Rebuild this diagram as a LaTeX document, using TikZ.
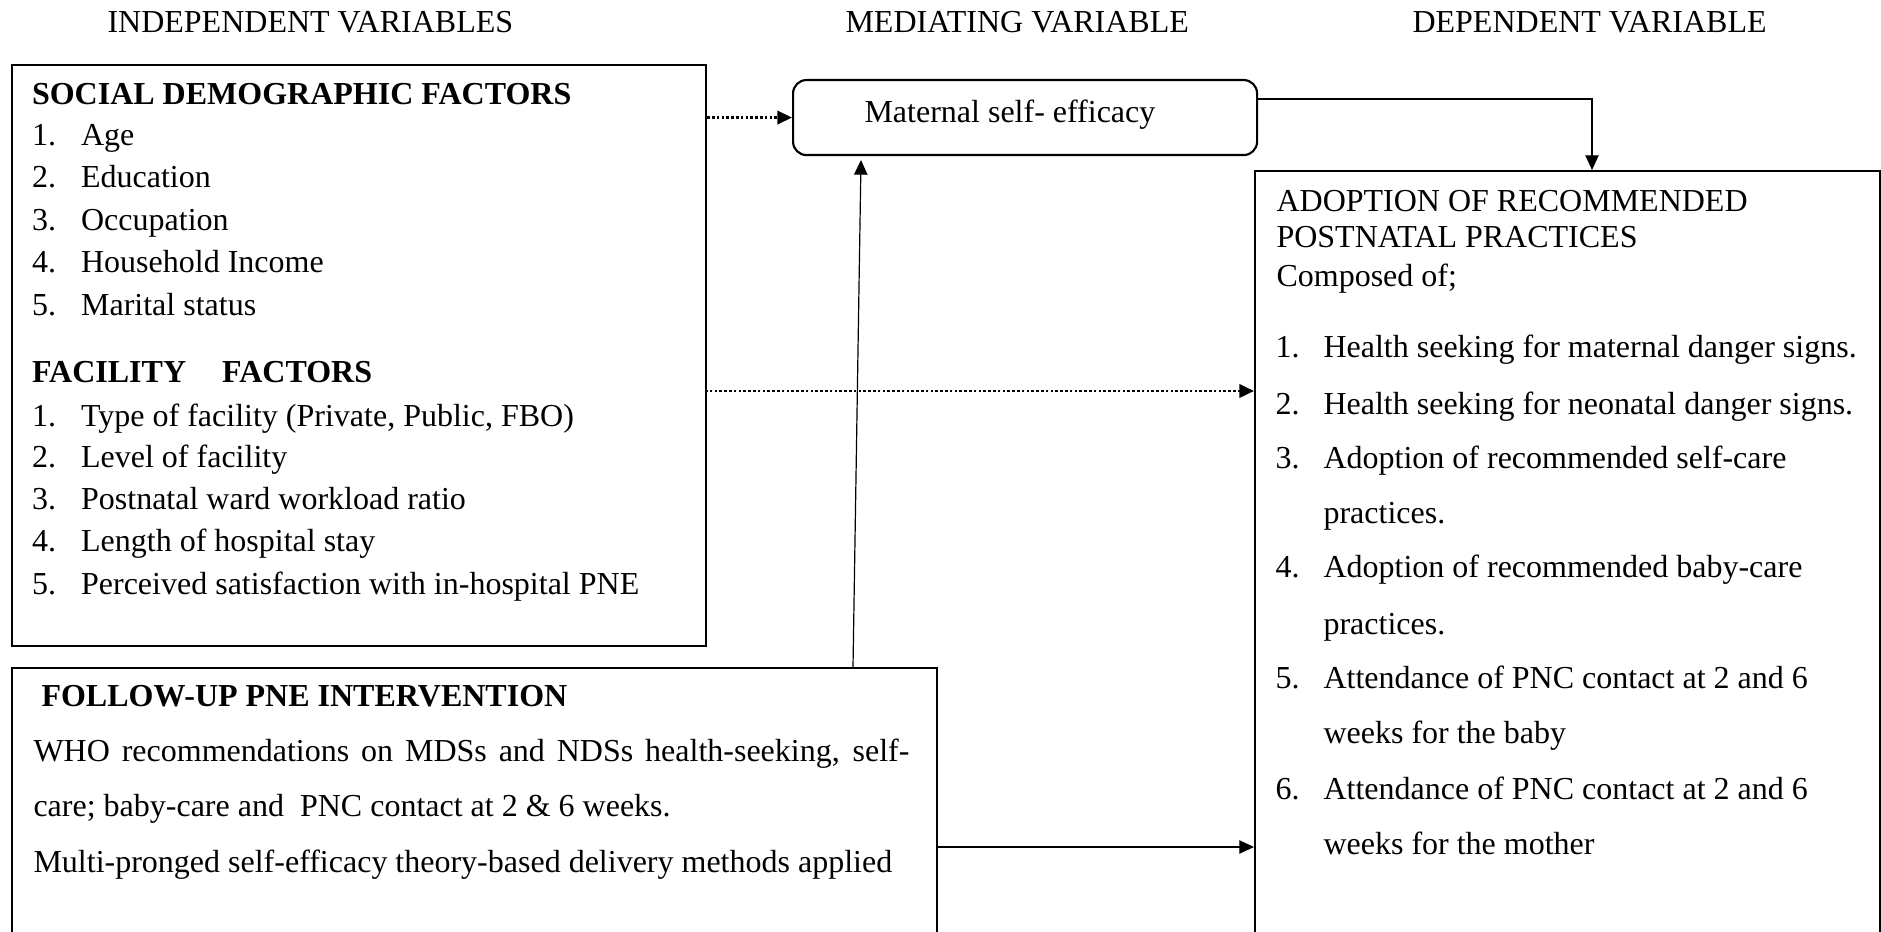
\documentclass[tikz,border=0pt]{standalone}
\usepackage{fontspec}
\setmainfont{Liberation Serif}
\usetikzlibrary{arrows.meta}
\newlength\pxl
\setlength\pxl{0.375pt}

\begin{document}
\begin{tikzpicture}[x=0.375pt,y=-0.375pt,
  every node/.style={inner sep=0pt,font=\fontsize{12}{14}\selectfont},
  frame/.style={draw,line width=0.8pt,anchor=north west},
  txt/.style={anchor=base west},
  link/.style={line width=0.45pt,-{Triangle[length=5.5pt,width=5pt]}},
  dotlink/.style={line width=1pt,dash pattern=on 1pt off 0.8pt,-{Triangle[length=5.5pt,width=5pt]}}]
  \def\numL{31.5};
  \def\txtL{80.6};
  \def\numR{1275};
  \def\txtR{1323};
  \useasboundingbox (0,0) rectangle (1881,932);
  \clip (0,0) rectangle (1881,932);
  % column headings
  \node[txt] (hInd) at (107,33)  {INDEPENDENT VARIABLES};
  \node[txt] (hMed) at (845,33)  {MEDIATING VARIABLE};
  \node[txt] (hDep) at (1412,33) {DEPENDENT VARIABLE};
  %
  \node[frame,minimum width=694\pxl,minimum height=581\pxl] (sdf) at (11,64) {};
  \node[frame,rounded corners=5pt,minimum width=464\pxl,minimum height=75\pxl] (med) at (792,79) {};
  \node[frame,minimum width=625\pxl,minimum height=800\pxl] (adopt) at (1254,170) {};
  \node[frame,minimum width=925\pxl,minimum height=300\pxl] (fup) at (11,667) {};
  %
  \node[txt] (sdfHead) at (\numL,105) {\textbf{SOCIAL DEMOGRAPHIC FACTORS}};
  \node[txt] (sdfN1) at (\numL,146) {1.};  \node[txt] (sdfT1) at (\txtL,146) {Age};
  \node[txt] (sdfN2) at (\numL,188) {2.};  \node[txt] (sdfT2) at (\txtL,188) {Education};
  \node[txt] (sdfN3) at (\numL,231) {3.};  \node[txt] (sdfT3) at (\txtL,231) {Occupation};
  \node[txt] (sdfN4) at (\numL,273) {4.};  \node[txt] (sdfT4) at (\txtL,273) {Household Income};
  \node[txt] (sdfN5) at (\numL,316) {5.};  \node[txt] (sdfT5) at (\txtL,316) {Marital status};
  %
  \node[txt] (facHead) at (\numL,383) {\textbf{FACILITY\hspace{13.5pt}FACTORS}};
  \node[txt] (facN1) at (\numL,427) {1.};  \node[txt] (facT1) at (\txtL,427) {Type of facility (Private, Public, FBO)};
  \node[txt] (facN2) at (\numL,468) {2.};  \node[txt] (facT2) at (\txtL,468) {Level of facility};
  \node[txt] (facN3) at (\numL,510) {3.};  \node[txt] (facT3) at (\txtL,510) {Postnatal ward workload ratio};
  \node[txt] (facN4) at (\numL,552) {4.};  \node[txt] (facT4) at (\txtL,552) {Length of hospital stay};
  \node[txt] (facN5) at (\numL,595) {5.};  \node[txt] (facT5) at (\txtL,595) {Perceived satisfaction with in-hospital PNE};
  %
  \node[txt] (medT) at (864,123) {Maternal self- efficacy};
  %
  \node[txt] (fupHead) at (41,707) {\textbf{FOLLOW-UP PNE INTERVENTION}};
  \node[txt] (fupL1) at (33,762) {\makebox[328.5pt][s]{WHO recommendations on MDSs and NDSs health-seeking, self-}};
  \node[txt] (fupL2) at (33,817) {care; baby-care and\ \ PNC contact at 2 \& 6 weeks.};
  \node[txt] (fupL3) at (33,872) {Multi-pronged self-efficacy theory-based delivery methods applied};
  %
  \node[txt] (adHead1) at (1276,212) {ADOPTION OF RECOMMENDED};
  \node[txt] (adHead2) at (1276,248) {POSTNATAL PRACTICES};
  \node[txt] (adHead3) at (1276,287) {Composed of;};
  \node[txt] (adN1) at (\numR,358) {1.};  \node[txt] (adT1) at (\txtR,358) {Health seeking for maternal danger signs.};
  \node[txt] (adN2) at (\numR,415) {2.};  \node[txt] (adT2) at (\txtR,415) {Health seeking for neonatal danger signs.};
  \node[txt] (adN3) at (\numR,469) {3.};  \node[txt] (adT3) at (\txtR,469) {Adoption of recommended self-care};
  \node[txt] (adT3b) at (\txtR,524) {practices.};
  \node[txt] (adN4) at (\numR,578) {4.};  \node[txt] (adT4) at (\txtR,578) {Adoption of recommended baby-care};
  \node[txt] (adT4b) at (\txtR,635) {practices.};
  \node[txt] (adN5) at (\numR,689) {5.};  \node[txt] (adT5) at (\txtR,689) {Attendance of PNC contact at 2 and 6};
  \node[txt] (adT5b) at (\txtR,744) {weeks for the baby};
  \node[txt] (adN6) at (\numR,800) {6.};  \node[txt] (adT6) at (\txtR,800) {Attendance of PNC contact at 2 and 6};
  \node[txt] (adT6b) at (\txtR,854) {weeks for the mother};
  %
  % connectors
  \coordinate (facOut) at (705,391);
  \coordinate (fupOut) at (936,847);
  \coordinate (fupUp) at (853,667);
  \coordinate (medIn) at (861,160);
  \coordinate (medOut) at (1258,99);
  \coordinate (adIn) at (1592,99);
  \draw[dotlink] (med.west -| sdf.east) -- (med.west);
  \draw[dotlink] (facOut) -- (facOut -| adopt.west);
  \draw[link] (fupOut) -- (fupOut -| adopt.west);
  \draw[link] (fupUp) -- (medIn);
  \draw[link] (medOut) -- (adIn) -- (adIn |- adopt.north);
\end{tikzpicture}
\end{document}
